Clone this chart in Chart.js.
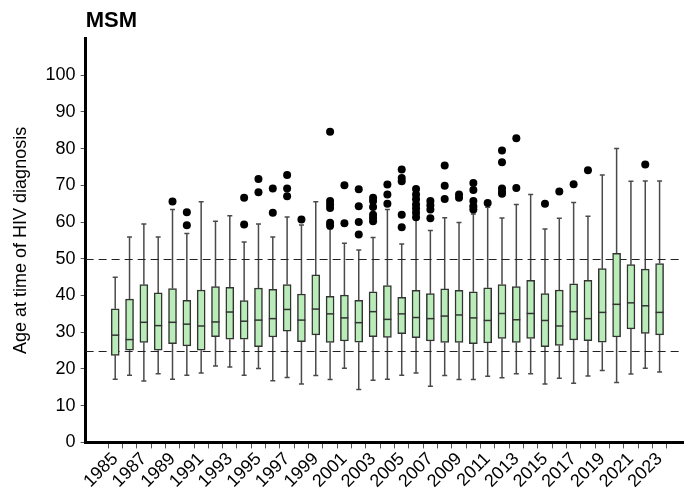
<!DOCTYPE html>
<html>
<head>
<meta charset="utf-8">
<script src="https://cdn.jsdelivr.net/npm/chart.js@4"></script>
<style>
  body { margin: 0; background: #fff; }
</style>
</head>
<body>
<canvas id="myChart" width="687" height="494"></canvas>
<script>
// Datos (edad al diagnostico de VIH, MSM)
var years = [];
for (var y = 1985; y <= 2023; y++) years.push(y);

var whiskerLow = [17.2, 18.3, 16.7, 18.7, 17.2, 18.3, 18.9, 20.8, 20.5, 18.3,
                  20.1, 16.8, 17.7, 15.9, 18.2, 17.1, 20.2, 14.4, 16.9, 17.2,
                  18.3, 18.9, 15.3, 18.2, 17.1, 17.1, 18.0, 17.6, 18.7, 18.7,
                  15.9, 17.5, 16.1, 18.1, 19.6, 16.3, 18.6, 20.2, 19.2];
var q1 = [23.7, 25.1, 27.2, 25.1, 26.9, 26.3, 25.1, 28.8, 28.1, 28.1,
          26.1, 28.7, 30.3, 27.4, 29.3, 27.2, 27.6, 27.3, 28.8, 28.6,
          29.6, 28.5, 27.6, 27.2, 27.2, 26.9, 27.1, 28.3, 27.2, 28.3,
          26.1, 26.4, 27.9, 27.7, 27.3, 28.7, 30.9, 29.7, 29.3];
var median = [29.2, 28.0, 32.7, 31.8, 32.7, 32.2, 31.7, 32.8, 35.5, 33.0,
              33.3, 33.7, 36.2, 33.3, 36.3, 35.0, 33.9, 32.6, 35.6, 33.5,
              35.0, 34.0, 33.7, 34.4, 34.7, 33.9, 33.2, 35.1, 33.4, 35.1,
              33.2, 31.7, 35.6, 33.7, 35.4, 37.6, 38.0, 37.2, 35.4];
var q3 = [36.4, 39.0, 43.0, 40.7, 41.9, 38.7, 41.5, 42.4, 42.2, 38.6,
          42.0, 41.7, 43.0, 40.4, 45.6, 39.8, 40.1, 38.7, 41.0, 42.7,
          39.5, 41.4, 40.5, 41.8, 41.4, 41.0, 42.1, 43.0, 42.4, 44.1,
          40.5, 41.5, 43.2, 44.1, 47.3, 51.5, 48.4, 47.2, 48.7];
var whiskerHigh = [45.0, 55.9, 59.5, 55.9, 63.4, 56.9, 65.5, 60.2, 61.7, 54.6,
                   59.5, 55.9, 61.4, 59.2, 65.5, 58.2, 54.2, 52.4, 55.8, 63.4,
                   54.0, 60.7, 57.7, 61.2, 59.9, 62.2, 64.0, 61.1, 64.8, 67.5,
                   58.1, 61.0, 65.3, 61.6, 72.8, 80.0, 71.1, 71.2, 71.2];

// Valores atipicos: [anio, edad]
var outliers = [
  [1989, 65.6],
  [1990, 62.7], [1990, 59.1],
  [1994, 66.6], [1994, 59.3],
  [1995, 71.7], [1995, 68.1],
  [1996, 69.1], [1996, 62.5],
  [1997, 72.8], [1997, 69.1], [1997, 67.0],
  [1998, 60.7],
  [2000, 84.6], [2000, 65.7], [2000, 64.8], [2000, 63.8], [2000, 59.8], [2000, 59.0],
  [2001, 70.0], [2001, 59.7],
  [2002, 68.9], [2002, 64.3], [2002, 60.0], [2002, 56.6],
  [2003, 66.6], [2003, 65.7], [2003, 64.1], [2003, 62.0], [2003, 61.1], [2003, 60.2],
  [2004, 70.2], [2004, 67.5], [2004, 65.0],
  [2005, 74.3], [2005, 72.0], [2005, 71.1], [2005, 62.0], [2005, 58.6],
  [2006, 69.0], [2006, 67.5], [2006, 66.2], [2006, 64.8], [2006, 63.7], [2006, 62.5], [2006, 61.3],
  [2007, 65.7], [2007, 64.6], [2007, 63.4], [2007, 61.0],
  [2008, 75.4], [2008, 69.9], [2008, 66.3],
  [2009, 67.5], [2009, 66.6],
  [2010, 70.6], [2010, 68.7], [2010, 65.7], [2010, 64.3], [2010, 63.4],
  [2011, 65.2],
  [2012, 79.5], [2012, 76.3], [2012, 69.1], [2012, 68.2], [2012, 67.7],
  [2013, 82.8], [2013, 69.3],
  [2015, 65.0],
  [2016, 68.3],
  [2017, 70.3],
  [2018, 74.1],
  [2022, 75.7]
];

var refLines = [25, 50];

// Bigotes, medianas y lineas de referencia dibujadas con las escalas del grafico
var boxPlugin = {
  id: 'boxExtras',
  beforeDatasetsDraw: function(chart) {
    var c = chart.ctx, xs = chart.scales.x, ys = chart.scales.y, a = chart.chartArea;
    c.save();
    c.strokeStyle = '#4a4a4a';
    c.lineWidth = 1.5;
    years.forEach(function(yr, i) {
      var x = xs.getPixelForValue(yr);
      c.beginPath();
      c.moveTo(x, ys.getPixelForValue(whiskerLow[i]));
      c.lineTo(x, ys.getPixelForValue(q1[i]));
      c.moveTo(x, ys.getPixelForValue(q3[i]));
      c.lineTo(x, ys.getPixelForValue(whiskerHigh[i]));
      c.moveTo(x - 2.5, ys.getPixelForValue(whiskerLow[i]));
      c.lineTo(x + 2.5, ys.getPixelForValue(whiskerLow[i]));
      c.moveTo(x - 2.5, ys.getPixelForValue(whiskerHigh[i]));
      c.lineTo(x + 2.5, ys.getPixelForValue(whiskerHigh[i]));
      c.stroke();
    });
    c.strokeStyle = '#222';
    c.lineWidth = 1;
    c.setLineDash([8, 5]);
    refLines.forEach(function(v) {
      var yy = Math.round(ys.getPixelForValue(v)) + 0.5;
      c.beginPath();
      c.moveTo(a.left, yy);
      c.lineTo(a.right, yy);
      c.stroke();
    });
    c.restore();
  },
  afterDatasetsDraw: function(chart) {
    var c = chart.ctx, xs = chart.scales.x, ys = chart.scales.y;
    c.save();
    c.strokeStyle = '#333';
    c.lineWidth = 1.5;
    years.forEach(function(yr, i) {
      var x = xs.getPixelForValue(yr);
      var yy = ys.getPixelForValue(median[i]);
      c.beginPath();
      c.moveTo(x - 4, yy);
      c.lineTo(x + 4, yy);
      c.stroke();
    });
    c.restore();
  }
};

var ctx = document.getElementById('myChart').getContext('2d');
var myChart = new Chart(ctx, {
  data: {
    datasets: [{
      type: 'bar',
      label: 'IQR',
      data: years.map(function(yr, i) { return { x: yr, y: [q1[i], q3[i]] }; }),
      backgroundColor: '#b9ecb9',
      borderColor: '#333',
      borderWidth: 1.5,
      borderSkipped: false,
      barThickness: 8,
      order: 2
    }, {
      type: 'line',
      label: 'Outliers',
      data: outliers.map(function(o) { return { x: o[0], y: o[1] }; }),
      showLine: false,
      pointRadius: 4,
      pointBackgroundColor: '#000',
      pointBorderColor: '#000',
      pointBorderWidth: 0,
      order: 1
    }]
  },
  options: {
    responsive: false,
    animation: false,
    layout: { padding: { left: 10, right: 0, top: 0, bottom: 2 } },
    plugins: {
      legend: { display: false },
      tooltip: { enabled: false },
      title: {
        display: true,
        text: 'MSM',
        align: 'start',
        fullSize: false,
        color: '#000',
        font: { family: 'Liberation Sans, Arial', size: 22, weight: 'bold' },
        padding: { top: 8, bottom: 4 }
      }
    },
    scales: {
      x: {
        type: 'linear',
        min: 1983.47,
        max: 2024.1,
        afterBuildTicks: function(scale) {
          scale.ticks = years.map(function(yr) { return { value: yr }; });
        },
        grid: { drawOnChartArea: false, drawTicks: true, tickLength: 6, color: '#555' },
        border: { display: true, color: '#000', width: 3 },
        ticks: {
          autoSkip: false,
          maxRotation: 45,
          minRotation: 45,
          padding: 0,
          color: '#000',
          font: { family: 'Liberation Sans, Arial', size: 18 },
          callback: function(v) { return (v - 1985) % 2 === 0 ? String(v) : ''; }
        }
      },
      y: {
        min: 0,
        max: 110,
        afterBuildTicks: function(scale) {
          var t = [];
          for (var v = 0; v <= 100; v += 10) t.push({ value: v });
          scale.ticks = t;
        },
        grid: { drawOnChartArea: false, drawTicks: true, tickLength: 5, color: '#555' },
        border: { display: true, color: '#000', width: 3 },
        ticks: {
          padding: 5,
          color: '#000',
          font: { family: 'Liberation Sans, Arial', size: 18 }
        },
        title: {
          display: true,
          text: 'Age at time of HIV diagnosis',
          color: '#000',
          font: { family: 'Liberation Sans, Arial', size: 18 },
          padding: { top: 0, bottom: 9 }
        }
      }
    }
  },
  plugins: [boxPlugin]
});
</script>
</body>
</html>
